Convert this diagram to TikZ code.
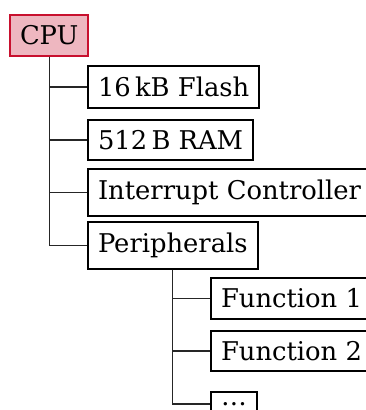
\documentclass[tikz,border=0pt]{standalone}
\usepackage{fontspec}
\setmainfont{DejaVu Serif}
\definecolor{cpured}{RGB}{200,16,46}
\begin{document}
\begin{tikzpicture}[x=1pt,y=-1pt,
  box/.style={draw=black, line width=2pt, inner xsep=10pt, inner ysep=10.6pt,
    font=\fontsize{25.8}{30}\selectfont, anchor=west},
  conn/.style={draw=black!85, line width=1.2pt}]
\useasboundingbox (0,0) rectangle (365,410);
\node[box, draw=cpured, fill=cpured!30, anchor=north west, minimum width=77pt] (cpu) at (9,14) {CPU};
\node[box] (flash) at (87,87) {16\,kB Flash};
\node[box] (ram) at (87,140) {512\,B RAM};
\node[box] (irq) at (87,192.5) {Interrupt Controller};
\node[box] (per) at (87,245.5) {Peripherals};
\node[box] (f1) at (210,298.5) {Function 1};
\node[box] (f2) at (210,351) {Function 2};
\node[box] (dots) at (210,404) {\ldots};
\draw[conn] (cpu.south) |- (flash.west);
\draw[conn] (cpu.south) |- (ram.west);
\draw[conn] (cpu.south) |- (irq.west);
\draw[conn] (cpu.south) |- (per.west);
\draw[conn] (per.south) |- (f1.west);
\draw[conn] (per.south) |- (f2.west);
\draw[conn] (per.south) |- (dots.west);
\end{tikzpicture}
\end{document}
